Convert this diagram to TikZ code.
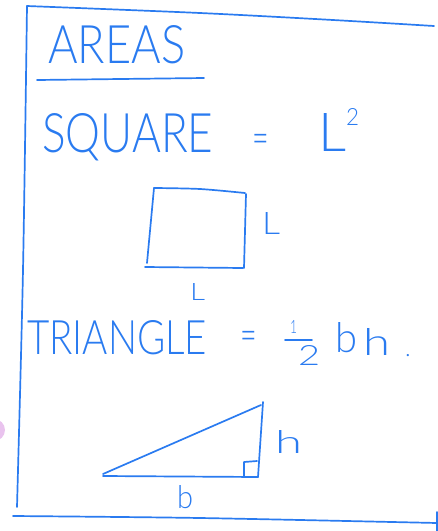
\documentclass[tikz,border=0pt]{standalone}
\usepackage{fontspec}
\setmainfont{Lato Light}
\definecolor{ink}{HTML}{2A7BF0}
\definecolor{blob}{HTML}{E9C3EE}
\begin{document}
\begin{tikzpicture}[x=1pt,y=-1pt,
  pen/.style={draw=ink, line width=1.7pt, line cap=round, line join=round},
  txt/.style={text=ink, inner sep=0pt, anchor=base west},
  ctr/.style={text=ink, inner sep=0pt, anchor=center}]
\useasboundingbox (0,0) rectangle (438,531);
% frame
\draw[pen] plot[smooth] coordinates {(27,6) (200,13) (333,20) (434,26)};
\draw[pen] plot[smooth] coordinates {(27,6) (23,270) (17,507)};
\draw[pen] plot[smooth] coordinates {(13,516) (200,518) (437,523)};
\draw[pen] (437,512) -- (437,531);
\fill[blob] (-6,430) circle (11);
% title
\node[txt] (areas) at (48,63) {\resizebox{137pt}{38pt}{AREAS}};
\draw[pen] (37,80) -- (204,78);
% square formula
\node[txt] (square) at (42,152) {\resizebox{171pt}{39pt}{SQUARE}};
\node[ctr] (eq1) at (261,144) {\scalebox{1.3}[2.0]{\fontsize{22}{22}\selectfont =}};
\node[txt] (ll) at (318,151) {\resizebox{28pt}{38pt}{L}};
\node[txt] (sq2) at (346,125) {\resizebox{13pt}{17pt}{2}};
% square
\draw[pen] plot[smooth] coordinates {(154,188) (200,189) (245,193)};
\draw[pen] (154,188) -- (147,263);
\draw[pen] (246,194) -- (244,268);
\draw[pen] (145,267) -- (243,268);
\node[txt] (lright) at (262,234) {\resizebox{18pt}{22pt}{L}};
\node[txt] (lbottom) at (190,300) {\resizebox{15pt}{17pt}{L}};
% triangle formula
\node[txt] (triangle) at (27,354) {\resizebox{180pt}{34pt}{TRIANGLE}};
\node[ctr] (eq2) at (249,341) {\scalebox{1.3}[2.0]{\fontsize{22}{22}\selectfont =}};
\node[txt] (one) at (290,333) {\resizebox{7pt}{13pt}{1}};
\draw[pen] (285,340) -- (312,340);
\node[txt] (two) at (298,365) {\resizebox{22pt}{20pt}{2}};
\node[txt] (bb) at (335,352) {\resizebox{22pt}{30pt}{b}};
\node[txt] (hh) at (363,355) {\resizebox{27pt}{27pt}{h}};
\node[txt] (dot) at (405,356) {\fontsize{24}{24}\selectfont .};
% triangle
\draw[pen] (103,476) -- (258,477);
\draw[pen] (263,402) -- (258,477);
\draw[pen] (103,474) -- (261,405);
\draw[pen] (244,476) -- (244,462) -- (257,461);
\node[txt] (hlab) at (275,453) {\resizebox{27pt}{23pt}{h}};
\node[txt] (blab) at (177,508) {\resizebox{16pt}{23pt}{b}};
\end{tikzpicture}
\end{document}
